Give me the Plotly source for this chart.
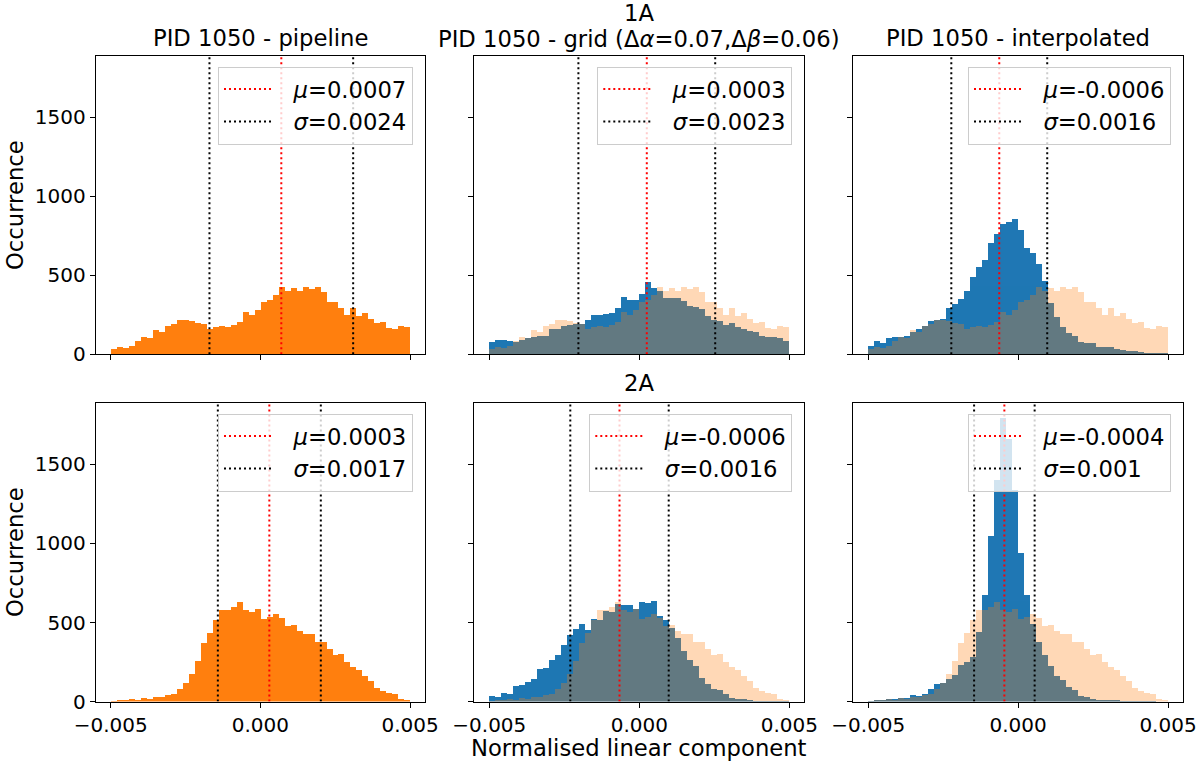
import numpy as np
import plotly.graph_objects as go

# === histogram bins (50 bins over [-0.005, 0.005]) ===
BIN_LO, BIN_HI, N_BINS = -0.005, 0.005, 50
edges = np.linspace(BIN_LO, BIN_HI, N_BINS + 1)
centers = (edges[:-1] + edges[1:]) / 2
bin_w = edges[1] - edges[0]

# === counts per bin ===
pipeline_1a = [38, 51, 44, 55, 83, 112, 108, 157, 146, 184,
               195, 218, 220, 212, 201, 193, 161, 176, 182, 176,
               189, 206, 269, 248, 280, 330, 345, 379, 426, 400,
               420, 400, 428, 413, 428, 398, 335, 335, 294, 252,
               292, 242, 261, 225, 197, 206, 169, 159, 178, 172]
grid_1a = [80, 91, 95, 85, 80, 91, 108, 112, 117, 117,
           161, 159, 180, 186, 193, 191, 218, 250, 252, 258,
           261, 294, 362, 343, 347, 381, 458, 424, 403, 356,
           356, 356, 341, 309, 303, 290, 244, 222, 214, 186,
           201, 172, 159, 150, 140, 117, 112, 114, 106, 87]
interp_1a = [57, 85, 74, 106, 112, 112, 117, 140, 159, 182,
             214, 222, 225, 297, 318, 352, 405, 489, 553, 597,
             706, 765, 828, 841, 860, 790, 674, 646, 574, 466,
             324, 239, 176, 138, 117, 78, 76, 74, 49, 47,
             47, 36, 30, 23, 21, 19, 13, 13, 8, 6]
pipeline_2a = [2, 11, 11, 17, 8, 23, 19, 32, 34, 42,
               49, 83, 117, 178, 261, 373, 436, 517, 578, 578,
               603, 633, 583, 570, 587, 523, 534, 555, 530, 483,
               489, 447, 430, 428, 379, 379, 335, 297, 305, 254,
               218, 201, 165, 133, 89, 66, 59, 47, 21, 11]
grid_2a = [40, 34, 57, 51, 100, 110, 125, 146, 208, 214,
           265, 294, 358, 422, 464, 492, 456, 525, 519, 572,
           568, 619, 612, 612, 587, 629, 625, 638, 544, 519,
           466, 407, 324, 265, 227, 148, 112, 81, 74, 47,
           25, 19, 17, 8, 4, 3, 2, 2, 1, 1]
interp_2a = [4, 15, 15, 19, 19, 23, 27, 42, 40, 53,
             82, 116, 120, 147, 168, 235, 252, 282, 443, 678,
             1046, 1404, 1796, 1660, 1340, 939, 678, 494, 378, 298,
             225, 162, 137, 95, 78, 40, 32, 19, 15, 15,
             15, 6, 4, 3, 2, 2, 1, 1, 0, 0]

# mean / std per panel (line positions) and the rounded legend labels
mu_vals = [0.0007, 0.00025, -0.00063, 0.0003, -0.00066, -0.00046]
sigma_vals = [0.0024, 0.00228, 0.0016, 0.00172, 0.00164, 0.00101]
mu_labels = ["0.0007", "0.0003", "-0.0006", "0.0003", "-0.0006", "-0.0004"]
sigma_labels = ["0.0024", "0.0023", "0.0016", "0.0017", "0.0016", "0.001"]

# panel k: (blue data or None, pipeline data)
panels = [
    (None, pipeline_1a), (grid_1a, pipeline_1a), (interp_1a, pipeline_1a),
    (None, pipeline_2a), (grid_2a, pipeline_2a), (interp_2a, pipeline_2a),
]

W, H = 1200, 765
Y_TOP = 1890
BLUE = "#1f77b4"
ORANGE = "#ff7f0e"
FONT = "DejaVu Sans"
FS = 22.7      # titles, labels, legends
FS_TICK = 20

col_px = [(95.7, 425.0), (474.3, 804.3), (853.3, 1183.0)]
row_px = [(55.7, 354.3), (402.7, 701.6)]

fig = go.Figure()

for k, (blue, pipe) in enumerate(panels):
    n = "" if k == 0 else str(k + 1)
    xa, ya = "x" + n, "y" + n
    leg = "legend" + n
    if blue is None:
        fig.add_trace(go.Bar(x=centers, y=pipe, width=bin_w, marker_color=ORANGE,
                             marker_line_width=0, xaxis=xa, yaxis=ya, showlegend=False))
    else:
        fig.add_trace(go.Bar(x=centers, y=blue, width=bin_w, marker_color=BLUE,
                             marker_line_width=0, xaxis=xa, yaxis=ya, showlegend=False))
        fig.add_trace(go.Bar(x=centers, y=pipe, width=bin_w, marker_color=ORANGE,
                             marker_line_width=0, opacity=0.3, xaxis=xa, yaxis=ya,
                             showlegend=False))
    mu, sg = mu_vals[k], sigma_vals[k]
    dot = dict(dash="2px,3px", width=2)
    fig.add_trace(go.Scatter(x=[mu, mu], y=[0, Y_TOP], mode="lines",
                             line=dict(color="red", **dot),
                             name="\u00a0\u00a0<i>μ</i>=" + mu_labels[k], legend=leg,
                             xaxis=xa, yaxis=ya))
    fig.add_trace(go.Scatter(x=[mu - sg, mu - sg], y=[0, Y_TOP], mode="lines",
                             line=dict(color="black", **dot),
                             name="\u00a0\u00a0<i>σ</i>=" + sigma_labels[k], legend=leg,
                             xaxis=xa, yaxis=ya))
    fig.add_trace(go.Scatter(x=[mu + sg, mu + sg], y=[0, Y_TOP], mode="lines",
                             line=dict(color="black", **dot),
                             showlegend=False, xaxis=xa, yaxis=ya))

layout = dict(
    width=W, height=H,
    margin=dict(l=0, r=0, t=0, b=0, autoexpand=False),
    paper_bgcolor="white", plot_bgcolor="white",
    barmode="overlay", bargap=0,
    font=dict(family=FONT, size=FS, color="black"),
    showlegend=True,
)

for k in range(6):
    n = "" if k == 0 else str(k + 1)
    r, c = divmod(k, 3)
    x0, x1 = col_px[c]
    y0, y1 = row_px[r]
    common = dict(showline=True, mirror=True, linecolor="black", linewidth=1,
                  ticks="outside", ticklen=5, tickwidth=1, tickcolor="black",
                  showgrid=False, zeroline=False, fixedrange=True, automargin=False,
                  tickfont=dict(size=FS_TICK, color="black"))
    layout["xaxis" + n] = dict(common, domain=[x0 / W, x1 / W],
                               range=[-0.0055, 0.0055], anchor="y" + n,
                               tickvals=[-0.005, 0, 0.005],
                               ticktext=["\u22120.005", "0.000", "0.005"],
                               showticklabels=(r == 1))
    layout["yaxis" + n] = dict(common, domain=[1 - y1 / H, 1 - y0 / H],
                               range=[0, Y_TOP], anchor="x" + n,
                               tickvals=[0, 500, 1000, 1500],
                               showticklabels=(c == 0))
    layout["legend" + n] = dict(x=(x1 - 12) / W, y=1 - (y0 + 11) / H,
                                xanchor="right", yanchor="top",
                                bgcolor="rgba(255,255,255,0.8)",
                                bordercolor="#cccccc", borderwidth=1,
                                font=dict(size=FS, color="black"),
                                itemwidth=50, tracegroupgap=0)

fig.update_layout(**layout)


def note(text, xp, yp, angle=0):
    fig.add_annotation(text=text, x=xp / W, y=1 - yp / H, xref="paper", yref="paper",
                       showarrow=False, xanchor="center", yanchor="middle",
                       textangle=angle, font=dict(size=FS, color="black"))


note("PID 1050 - pipeline", 260.3, 38)
note("1A", 639.3, 13)
note("PID 1050 - grid (Δ<i>α</i>=0.07,Δ<i>β</i>=0.06)", 639.3, 39)
note("PID 1050 - interpolated", 1018.2, 38)
note("2A", 639.3, 383)
note("Occurrence", 15, 205, -90)
note("Occurrence", 15, 552, -90)
note("Normalised linear component", 639.3, 748)

# the page body has an 8px default margin; drop it so the figure sits at (0, 0)
fig.write_html("out.html", config={"displayModeBar": False},
               post_script="document.body.style.margin='0px';")
